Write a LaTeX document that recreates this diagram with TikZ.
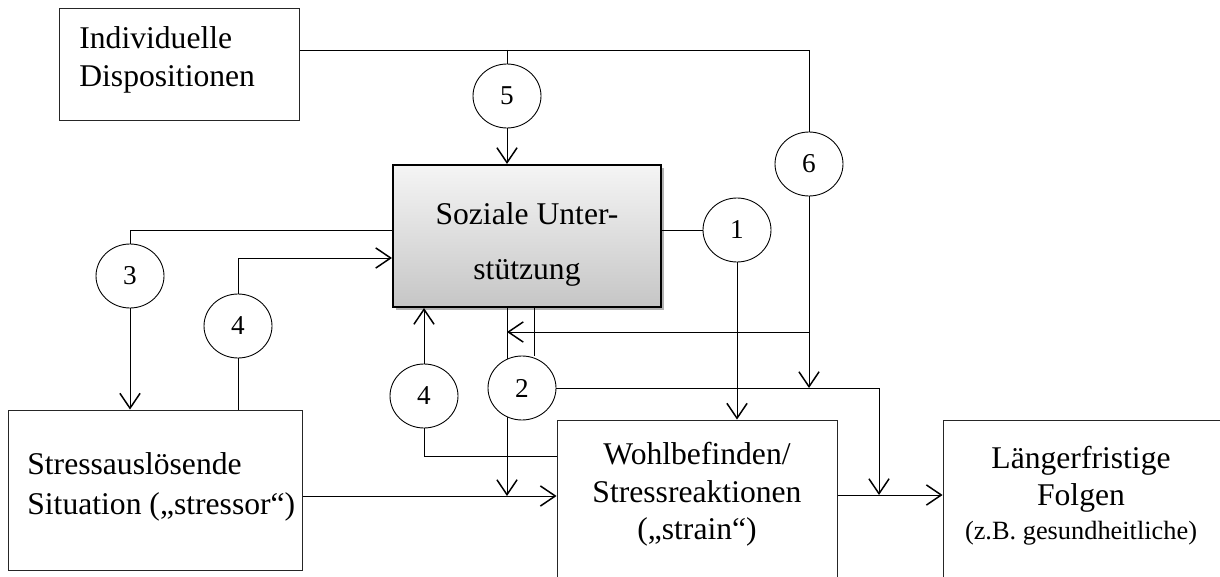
\documentclass[tikz,border=0pt]{standalone}
\usepackage{fontspec}
\setmainfont{Liberation Serif}
\usetikzlibrary{arrows.meta,shapes.geometric,shadows,backgrounds}
\begin{document}
\begin{tikzpicture}[x=0.02cm,y=-0.02cm,
  >={Straight Barb[length=8.5pt,width=11.5pt,line width=0.85pt]},
  conn/.style={line width=0.85pt},
  box/.style={draw=black!85, line width=0.5pt, rectangle, inner sep=0pt},
  num/.style={draw, ellipse, fill=white, line width=0.5pt, minimum width=1.36cm, minimum height=1.28cm, inner sep=0pt, font=\fontsize{15.5}{18}\selectfont},
  lbl/.style={inner sep=0pt, font=\fontsize{18}{21.6}\selectfont},
]
\useasboundingbox (0,0) rectangle (1220,577);
\clip (0,0) rectangle (1220,577);

% boxes
\node[box, minimum width=4.8cm, minimum height=2.24cm] (ind) at (179,64) {};
\node[lbl, anchor=west, align=left] (indt) at (79,60) {Individuelle\\Dispositionen};

\node[draw, line width=1.2pt, top color=gray!8, bottom color=gray!45,
      drop shadow={shadow xshift=1.5pt, shadow yshift=-1.5pt, opacity=0.3, fill=black},
      minimum width=5.36cm, minimum height=2.84cm, inner sep=0pt] (soz) at (527,236) {};
\node[lbl, align=center, font=\fontsize{18}{31.3}\selectfont] (sozt) at (527,244) {Soziale Unter-\\stützung};

\node[box, minimum width=5.88cm, minimum height=3.2cm] (str) at (155,490) {};
\node[lbl, anchor=west, align=left, font=\fontsize{18}{22.8}\selectfont] (strt) at (27,487) {Stressauslösende\\Situation („stressor“)};

\node[box, minimum width=5.6cm, minimum height=3.6cm] (wohl) at (697,510) {};
\node[lbl, align=center, font=\fontsize{18}{21.3}\selectfont] (wohlt) at (697,494.5) {Wohlbefinden/\\Stressreaktionen\\(„strain“)};

\node[box, minimum width=7.14cm, minimum height=3.6cm] (lang) at (1121.5,510) {};
\node[lbl, align=center, font=\fontsize{18}{21}\selectfont] (langt) at (1081,495.6) {Längerfristige\\Folgen\\[-2pt]{\fontsize{15}{18}\selectfont (z.B. gesundheitliche)}};

% numbered circles
\node[num] (c5) at (507,96) {5};
\node[num] (c6) at (809,164) {6};
\node[num] (c1) at (737,230) {1};
\node[num] (c2) at (522,388) {2};
\node[num] (c4b) at (424,396) {4};
\node[num] (c3) at (130,276) {3};
\node[num] (c4a) at (238,326) {4};

\coordinate (j1) at (507,496);
\coordinate (j2) at (879,495);
\coordinate (m) at (534,0);

\begin{scope}[on background layer, conn]
\draw (ind.east |- 0,50) -| (c6);
\draw (c5 |- 0,50) -- (c5);
\draw[->] (c5) -- (c5 |- soz.north);
\draw[->] (c6) -- (c6 |- c2.east);
\draw[->] (c6 |- 0,332) -- (j1 |- 0,332);
\draw (soz.east |- c1) -- (c1);
\draw[->] (c1) -- (c1 |- wohl.north);
\draw (soz.south -| m) -- (m |- c2.north);
\draw[->] (c2.east) -| (j2);
\draw[->] (soz.south -| j1) -- (j1);
\draw[->] (str.east |- j1) -- (wohl.west |- j1);
\draw[->] (wohl.east |- j2) -- (lang.west |- j2);
\draw (wohl.west |- 0,456) -| (c4b);
\draw[->] (c4b) -- (c4b |- soz.south);
\draw (soz.west |- 0,230) -| (c3);
\draw[->] (c3) -- (c3 |- str.north);
\draw (c4a |- str.north) -- (c4a);
\draw[->] (c4a) |- (soz.west |- 0,258);
\end{scope}
\end{tikzpicture}
\end{document}
